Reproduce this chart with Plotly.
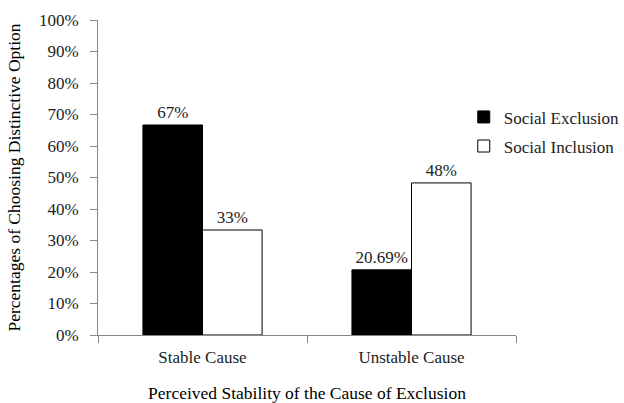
import plotly.graph_objects as go

categories = ["Stable Cause", "Unstable Cause"]
exclusion_values = [66.67, 20.69]
inclusion_values = [33.33, 48.28]
exclusion_labels = ["67%", "20.69%"]
inclusion_labels = ["33%", "48%"]
y_ticks = list(range(0, 101, 10))
y_tick_labels = [f"{v}%" for v in y_ticks]

FONT = "Liberation Serif, Times New Roman, serif"
FS = 17

fig = go.Figure()
fig.add_trace(go.Bar(
    x=categories, y=exclusion_values, name="Social Exclusion",
    text=exclusion_labels, textposition="outside",
    marker=dict(color="black", line=dict(color="black", width=1)),
    legendgroup="a", cliponaxis=False,
))
fig.add_trace(go.Bar(
    x=categories, y=inclusion_values, name="Social Inclusion",
    text=inclusion_labels, textposition="outside",
    marker=dict(color="white", line=dict(color="black", width=1)),
    legendgroup="b", cliponaxis=False,
))

fig.update_layout(
    width=624, height=403,
    margin=dict(l=98, r=108, t=20, b=68, autoexpand=False),
    paper_bgcolor="white", plot_bgcolor="white",
    font=dict(family=FONT, size=FS, color="#222"),
    barmode="group", bargap=0.43, bargroupgap=0,
    uniformtext=dict(minsize=FS, mode="show"),
    showlegend=True,
    legend=dict(x=0.875, y=0.748, xanchor="left", yanchor="top",
                font=dict(family=FONT, size=FS, color="#222"),
                tracegroupgap=4, bgcolor="rgba(0,0,0,0)"),
    xaxis=dict(
        type="category", showline=True, linecolor="#868686", linewidth=1,
        ticks="outside", tickson="boundaries", ticklen=7, tickcolor="#868686",
        ticklabelstandoff=7,
        showgrid=False, zeroline=False,
        title=dict(text="Perceived Stability of the Cause of Exclusion",
                   standoff=21, font=dict(family=FONT, size=17.5, color="black")),
    ),
    yaxis=dict(
        range=[0, 100], tickmode="array", tickvals=y_ticks, ticktext=y_tick_labels,
        showline=True, linecolor="#868686", linewidth=1,
        ticks="outside", ticklen=7, tickcolor="#868686",
        ticklabelstandoff=8,
        showgrid=False, zeroline=False,
        title=dict(text="Percentages of Choosing Distinctive Option",
                   standoff=13, font=dict(family=FONT, size=17.5, color="black")),
    ),
)
fig.update_traces(textfont=dict(family=FONT, size=FS, color="#222"))

fig.write_html("out.html", config={"displayModeBar": False},
               post_script="document.body.style.margin='0';")
